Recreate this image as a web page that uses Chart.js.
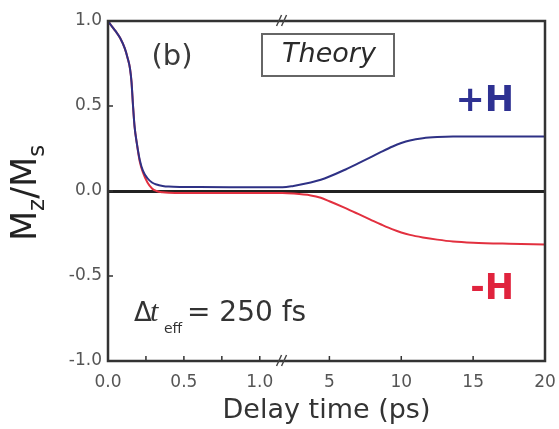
<!DOCTYPE html>
<html>
<head>
<meta charset="utf-8">
<script src="https://cdn.jsdelivr.net/npm/chart.js@4/dist/chart.umd.min.js"></script>
<style>
html,body{margin:0;padding:0;background:#fff;}
canvas{display:block;}
</style>
</head>
<body>
<canvas id="c" width="559" height="429"></canvas>
<script>
// ---- data (delay time in ps, normalized magnetization Mz/Ms) ----
const times = [0, 0.02, 0.05, 0.08, 0.11, 0.13, 0.145, 0.155, 0.165, 0.175, 0.19, 0.21, 0.23, 0.26, 0.29, 0.32, 0.36, 0.4, 0.5, 0.6, 0.8, 1.0, 1.15,
               1.74, 2.5, 3.7, 4.4, 5, 6, 7, 7.85, 8.6, 9.4, 10, 10.6, 11.5, 12.5, 13.6, 15, 17.5, 20];
const plusH  = [1.0, 0.975, 0.94, 0.9, 0.84, 0.78, 0.72, 0.64, 0.5, 0.38, 0.28, 0.18, 0.12, 0.075, 0.05, 0.038, 0.03, 0.026, 0.024, 0.023, 0.022, 0.022, 0.022,
                0.022, 0.03, 0.05, 0.066, 0.085, 0.122, 0.163, 0.198, 0.23, 0.262, 0.282, 0.297, 0.31, 0.317, 0.32, 0.32, 0.32, 0.32];
const minusH = [1.0, 0.975, 0.94, 0.9, 0.84, 0.78, 0.72, 0.64, 0.5, 0.38, 0.28, 0.17, 0.11, 0.05, 0.015, 0.0, -0.008, -0.011, -0.012, -0.012, -0.012, -0.012, -0.012,
                -0.012, -0.015, -0.026, -0.04, -0.06, -0.096, -0.135, -0.168, -0.197, -0.226, -0.244, -0.258, -0.273, -0.286, -0.297, -0.304, -0.31, -0.314];
const xTickTimes  = [0, 0.5, 1.0, 5, 10, 15, 20];
const xTickLabels = ['0.0', '0.5', '1.0', '5', '10', '15', '20'];
const xMinorTimes = [0.25, 0.75];
const yTickValues = [-1, -0.5, 0, 0.5, 1];

// ---- broken time axis: 0..1.15 ps linear, then 1.74..20 ps compressed ----
const BREAK_L = 1.15, BREAK_R = 1.74, RIGHT_RATIO = 0.0947;
function toAxis(t) {
  return t <= BREAK_L ? t : BREAK_L + (t - BREAK_R) * RIGHT_RATIO;
}

const SANS = 'DejaVu Sans';

const deco = {
  id: 'deco',
  afterDatasetsDraw(chart) {
    const {ctx, chartArea: a, scales: {x, y}} = chart;
    ctx.save();
    // frame
    ctx.strokeStyle = '#333';
    ctx.lineWidth = 2.5;
    ctx.strokeRect(a.left, a.top, a.right - a.left, a.bottom - a.top);
    // inward tick marks
    ctx.lineWidth = 1.5;
    ctx.beginPath();
    yTickValues.forEach(v => { const py = y.getPixelForValue(v); ctx.moveTo(a.left, py); ctx.lineTo(a.left + 5, py); });
    xTickTimes.concat(xMinorTimes).forEach(t => {
      const px = x.getPixelForValue(toAxis(t));
      if (px > a.left + 2 && px < a.right - 2) { ctx.moveTo(px, a.bottom); ctx.lineTo(px, a.bottom - 5); }
    });
    ctx.stroke();
    // axis break marks
    const bx = x.getPixelForValue(BREAK_L);
    ctx.strokeStyle = '#444';
    ctx.lineWidth = 1.4;
    [a.top, a.bottom].forEach(py => {
      ctx.beginPath();
      ctx.moveTo(bx - 6, py + 5); ctx.lineTo(bx - 1, py - 6);
      ctx.moveTo(bx - 1, py + 5); ctx.lineTo(bx + 4, py - 6);
      ctx.stroke();
    });
    ctx.restore();
  },
  afterDraw(chart) {
    const {ctx} = chart;
    ctx.save();
    ctx.textBaseline = 'alphabetic';
    // (b)
    ctx.fillStyle = '#3a3a3a';
    ctx.font = '29px "' + SANS + '"';
    ctx.textAlign = 'center';
    ctx.fillText('(b)', 172, 65);
    // Theory box
    ctx.fillStyle = '#fff';
    ctx.fillRect(262, 34, 132, 42);
    ctx.strokeStyle = '#666';
    ctx.lineWidth = 2;
    ctx.strokeRect(262, 34, 132, 42);
    ctx.fillStyle = '#2a2a2a';
    ctx.font = 'oblique 27px "' + SANS + '"';
    ctx.fillText('Theory', 329, 62);
    // +H / -H
    ctx.textAlign = 'right';
    ctx.font = 'bold 35px "' + SANS + '"';
    ctx.fillStyle = '#2e3192';
    ctx.fillText('+H', 514, 111);
    ctx.fillStyle = '#e0233d';
    ctx.fillText('-H', 514, 299);
    // Delta t_eff = 250 fs
    ctx.textAlign = 'left';
    ctx.fillStyle = '#333';
    ctx.font = '26px "' + SANS + '"';
    ctx.fillText('\u0394', 134, 321);
    ctx.font = 'italic 30px "Liberation Serif"';
    ctx.fillText('t', 150, 321);
    ctx.font = '14px "' + SANS + '"';
    ctx.fillText('eff', 164, 333);
    ctx.font = '28px "' + SANS + '"';
    ctx.fillText('= 250 fs', 187, 321);
    // y title Mz/Ms
    ctx.translate(36, 193);
    ctx.rotate(-Math.PI / 2);
    ctx.fillStyle = '#222';
    const big = '35px "' + SANS + '"', small = '23px "' + SANS + '"';
    const parts = [['M', big, 0], ['z', small, 8], ['/', big, 0], ['M', big, 0], ['s', small, 8]];
    let w = 0;
    parts.forEach(p => { ctx.font = p[1]; w += ctx.measureText(p[0]).width; });
    let cx = -w / 2;
    parts.forEach(p => { ctx.font = p[1]; ctx.fillText(p[0], cx, p[2]); cx += ctx.measureText(p[0]).width; });
    ctx.restore();
  }
};

new Chart(document.getElementById('c'), {
  type: 'line',
  data: {
    datasets: [
      { label: '+H', data: times.map((t, i) => ({x: toAxis(t), y: plusH[i]})),
        borderColor: '#2e3185', borderWidth: 2, pointRadius: 0, cubicInterpolationMode: 'monotone', fill: false },
      { label: '-H', data: times.map((t, i) => ({x: toAxis(t), y: minusH[i]})),
        borderColor: '#e2303f', borderWidth: 2, pointRadius: 0, cubicInterpolationMode: 'monotone', fill: false }
    ]
  },
  options: {
    responsive: false,
    animation: false,
    layout: { padding: { top: 21, right: 14, left: 0, bottom: 0 } },
    plugins: { legend: { display: false }, tooltip: { enabled: false } },
    scales: {
      x: {
        type: 'linear', min: 0, max: toAxis(20),
        afterBuildTicks: s => { s.ticks = xTickTimes.map(t => ({ value: toAxis(t) })); },
        ticks: { callback: (v, i) => xTickLabels[i], font: { family: SANS, size: 17 }, color: '#555',
                 padding: 3, maxRotation: 0, autoSkip: false },
        grid: { display: false },
        border: { display: false },
        title: { display: true, text: 'Delay time (ps)', font: { family: SANS, size: 27 }, color: '#333',
                 padding: { top: 0, bottom: 2 } },
        afterFit: s => { s.height = 68; }
      },
      y: {
        min: -1, max: 1,
        afterBuildTicks: s => { s.ticks = yTickValues.map(v => ({ value: v })); },
        ticks: { callback: v => v.toFixed(1), font: { family: SANS, size: 17 }, color: '#555', padding: 6 },
        grid: { drawTicks: false,
                color: c => (c.tick && c.tick.value === 0) ? '#222' : 'rgba(0,0,0,0)',
                lineWidth: c => (c.tick && c.tick.value === 0) ? 3 : 1 },
        border: { display: false },
        afterFit: s => { s.width = 108; }
      }
    }
  },
  plugins: [deco]
});
</script>
</body>
</html>
